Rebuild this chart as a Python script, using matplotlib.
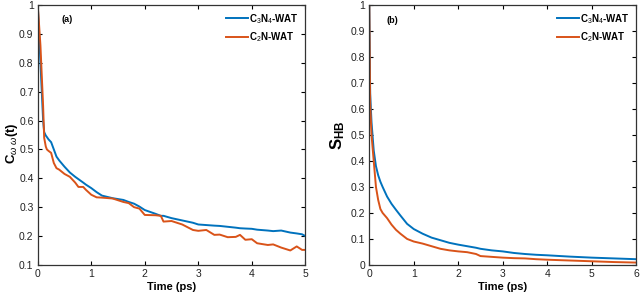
import matplotlib
matplotlib.use("Agg")
import matplotlib.pyplot as plt
from matplotlib.ticker import FormatStrFormatter, MultipleLocator

# ── data ────────────────────────────────────────────────────────────────
# panel (a): orientational correlation C_ww(t)
t_a = [0, 0.05, 0.1, 0.12, 0.15, 0.17, 0.2, 0.25, 0.3, 0.35, 0.4, 0.5, 0.6, 0.7,
       0.76, 0.85, 0.9, 1.0, 1.1, 1.2, 1.4, 1.6, 1.7, 1.8, 1.9, 2.0, 2.2, 2.3,
       2.35, 2.5, 2.7, 2.9, 3.0, 3.15, 3.3, 3.4, 3.55, 3.7, 3.78, 3.88, 4.0,
       4.1, 4.3, 4.4, 4.55, 4.72, 4.84, 4.94, 5.0]
c3n4_a = [1.0, 0.8, 0.6, 0.56, 0.548, 0.543, 0.535, 0.525, 0.5, 0.475, 0.462,
          0.44, 0.42, 0.405, 0.397, 0.385, 0.378, 0.366, 0.352, 0.34, 0.331,
          0.325, 0.318, 0.312, 0.302, 0.29, 0.277, 0.27, 0.27, 0.262, 0.254,
          0.246, 0.24, 0.238, 0.236, 0.235, 0.232, 0.229, 0.227, 0.226, 0.225,
          0.222, 0.219, 0.217, 0.219, 0.212, 0.209, 0.206, 0.2]
c2n_a = [1.0, 0.86, 0.65, 0.54, 0.51, 0.5, 0.495, 0.488, 0.453, 0.435, 0.43,
         0.415, 0.405, 0.385, 0.37, 0.37, 0.36, 0.343, 0.334, 0.333, 0.33,
         0.318, 0.314, 0.3, 0.295, 0.273, 0.272, 0.27, 0.25, 0.252, 0.24,
         0.221, 0.218, 0.221, 0.204, 0.205, 0.196, 0.197, 0.204, 0.187, 0.189,
         0.175, 0.169, 0.171, 0.16, 0.15, 0.164, 0.152, 0.152]

# panel (b): hydrogen-bond correlation S_HB
t_b = [0, 0.02, 0.05, 0.1, 0.15, 0.2, 0.25, 0.3, 0.4, 0.5, 0.6, 0.7, 0.85,
       1.0, 1.2, 1.4, 1.6, 1.8, 2.0, 2.2, 2.4, 2.5, 2.75, 3.0, 3.25, 3.5,
       3.75, 4.0, 4.5, 5.0, 5.5, 6.0]
c3n4_b = [1.0, 0.66, 0.55, 0.44, 0.38, 0.345, 0.32, 0.3, 0.263, 0.235, 0.212,
          0.19, 0.158, 0.138, 0.12, 0.105, 0.095, 0.085, 0.078, 0.072, 0.066,
          0.062, 0.056, 0.052, 0.046, 0.042, 0.039, 0.037, 0.032, 0.028,
          0.025, 0.022]
c2n_b = [1.0, 0.62, 0.5, 0.4, 0.3, 0.25, 0.215, 0.2, 0.18, 0.155, 0.135, 0.12,
         0.1, 0.09, 0.082, 0.072, 0.062, 0.056, 0.052, 0.049, 0.042, 0.034,
         0.031, 0.028, 0.026, 0.025, 0.022, 0.02, 0.017, 0.014, 0.011, 0.009]

labels = ["C$_3$N$_4$-WAT", "C$_2$N-WAT"]
BLUE = "#0072BD"
ORANGE = "#D95319"

plt.rcParams["font.family"] = ["Liberation Sans Narrow", "Liberation Sans", "DejaVu Sans"]
plt.rcParams["mathtext.fontset"] = "custom"
plt.rcParams["mathtext.rm"] = "Liberation Sans"
plt.rcParams["mathtext.it"] = "Liberation Sans:italic"
plt.rcParams["mathtext.bf"] = "Liberation Sans:bold"


def style_axes(ax, xmax, ymin, xstep):
    ax.set_xlim(0, xmax)
    ax.set_ylim(ymin, 1)
    ax.xaxis.set_major_locator(MultipleLocator(xstep))
    ax.yaxis.set_major_locator(MultipleLocator(0.1))
    ax.xaxis.set_major_formatter(FormatStrFormatter("%g"))
    ax.yaxis.set_major_formatter(FormatStrFormatter("%g"))
    ax.tick_params(direction="in", top=True, right=True, length=3,
                   width=0.8, labelsize=7.5, pad=3, labelcolor="#222222")
    for sp in ax.spines.values():
        sp.set_linewidth(0.9)
        sp.set_color("#333333")
    ax.set_xlabel("Time (ps)", fontsize=8, fontweight="bold", labelpad=2)


fig = plt.figure(figsize=(6.4, 2.95), dpi=100)
ax1 = fig.add_axes([0.059, 0.102, 0.418, 0.881])
ax2 = fig.add_axes([0.577, 0.102, 0.417, 0.881])

ax1.plot(t_a, c3n4_a, color=BLUE, lw=1.4, label=labels[0])
ax1.plot(t_a, c2n_a, color=ORANGE, lw=1.4, label=labels[1])
style_axes(ax1, 5, 0.1, 1)
ax1.set_ylabel(r"C$_{\omega\ \omega}$(t)", fontsize=9.5, fontweight="bold")
ax1.yaxis.set_label_coords(-0.066, 0.47)
ax1.text(0.11, 0.945, "(a)", transform=ax1.transAxes, fontsize=6.5,
         fontweight="bold", ha="center", va="center")

ax2.plot(t_b, c3n4_b, color=BLUE, lw=1.4, label=labels[0])
ax2.plot(t_b, c2n_b, color=ORANGE, lw=1.4, label=labels[1])
style_axes(ax2, 6, 0, 1)
ax2.set_ylabel(r"S$_{\mathbf{HB}}$", fontsize=12, fontweight="bold")
ax2.yaxis.set_label_coords(-0.085, 0.5)
ax2.text(0.085, 0.94, "(b)", transform=ax2.transAxes, fontsize=6.5,
         fontweight="bold", ha="center", va="center")

for ax in (ax1, ax2):
    leg = ax.legend(loc="upper right", frameon=False, fontsize=7,
                    handlelength=2.2, handletextpad=0.1, labelspacing=0.5,
                    borderaxespad=0.3)
    for txt in leg.get_texts():
        txt.set_fontweight("bold")

fig.savefig("out.png", dpi=100)
